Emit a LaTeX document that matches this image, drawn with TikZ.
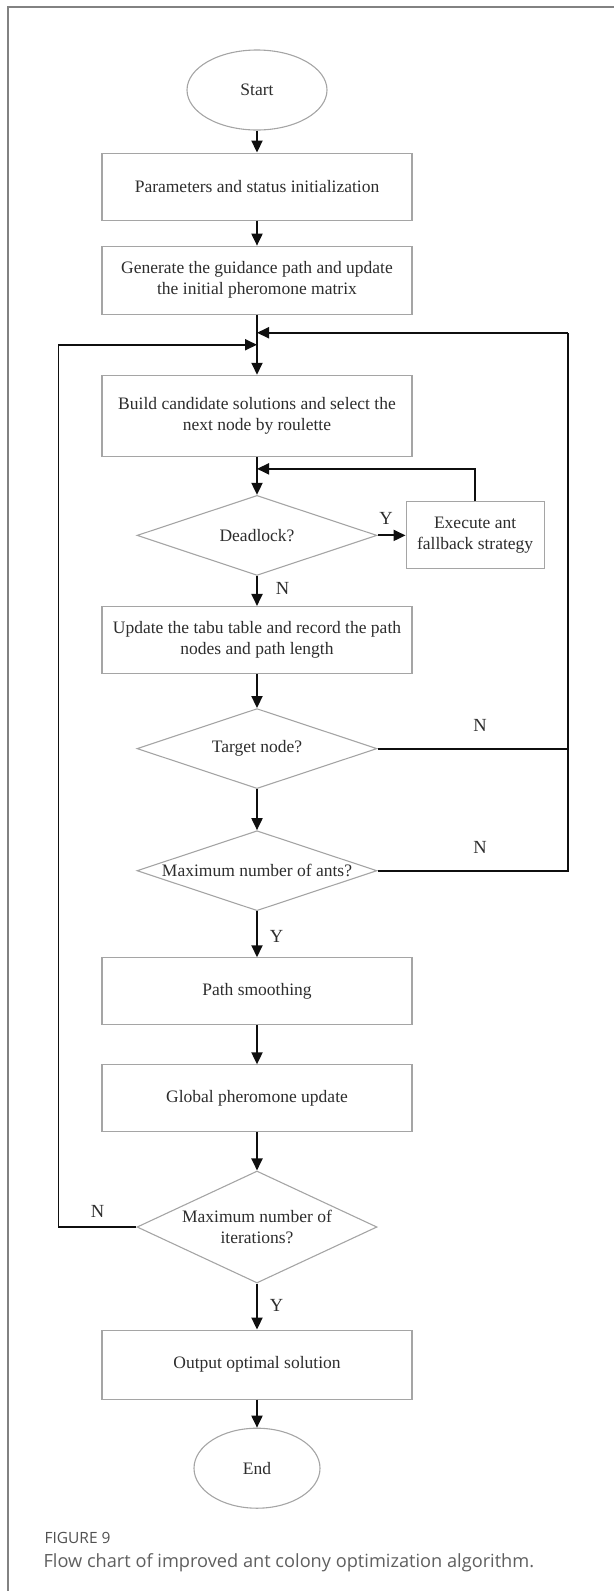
\documentclass[tikz,border=0pt]{standalone}
\usepackage{fontspec}
\setmainfont{Liberation Serif}
\newfontfamily\capfont{Open Sans}
\usepackage{tikz}
\usetikzlibrary{positioning,arrows.meta,calc,shapes.geometric}
\definecolor{shapec}{RGB}{165,165,165}
\definecolor{inkc}{RGB}{45,45,45}
\definecolor{flowc}{RGB}{15,15,15}
\definecolor{framec}{RGB}{130,130,130}
\definecolor{capc}{RGB}{95,95,95}
\newcommand{\boxfont}{\fontsize{17.5}{21}\selectfont}
\tikzset{
  terminal/.style = {ellipse, draw=shapec, line width=1.1pt, minimum width=140pt, minimum height=80pt,
                     inner sep=0pt, font=\boxfont, text=inkc},
  process/.style  = {rectangle, draw=shapec, line width=1.1pt, minimum width=310pt, minimum height=67pt,
                     align=center, inner sep=2pt, font=\boxfont, text=inkc},
  decision/.style = {diamond, aspect=3, draw=shapec, line width=1.1pt, minimum width=240pt, minimum height=80pt,
                     align=center, inner sep=0pt, font=\boxfont, text=inkc},
  flow/.style     = {-{Triangle[length=12pt,width=11pt]}, line width=1.9pt, draw=flowc},
  loopline/.style = {line width=1.9pt, draw=flowc},
  yn/.style       = {font=\fontsize{18.5}{20}\selectfont, text=inkc, inner sep=1pt},
}

\begin{document}
\begin{tikzpicture}
\useasboundingbox (0,0) rectangle (614pt,-1591pt);
\draw[framec, line width=1.3pt] (8pt,-1591pt) -- (8pt,-7pt) -- (614pt,-7pt);

\node[terminal] (start) at (257pt,-90pt) {Start};
\node[process, below=22pt of start] (params) {Parameters and status initialization};
\node[process, minimum height=68pt, below=25pt of params] (gen) {Generate the guidance path and update\\the initial pheromone matrix};
\node[process, minimum height=81pt, below=60pt of gen] (build) {Build candidate solutions and select the\\next node by roulette};
\node[decision, below=38pt of build] (deadlock) {Deadlock?};
\node[process, minimum width=138pt, right=28pt of deadlock] (exec) {Execute ant\\fallback strategy};
\node[process, below=30pt of deadlock] (update) {Update the tabu table and record the path\\nodes and path length};
\node[decision, below=34pt of update] (target) {Target node?};
\node[decision, below=41pt of target] (maxants) {Maximum number of ants?};
\node[process, below=46pt of maxants] (smooth) {Path smoothing};
\node[process, below=39pt of smooth] (global) {Global pheromone update};
\node[decision, aspect=2.15, minimum height=112pt, below=38pt of global] (maxiter) {Maximum number of\\iterations?};
\node[process, minimum height=69pt, below=46pt of maxiter] (output) {Output optimal solution};
\node[terminal, minimum width=126pt, below=28pt of output] (end) {End};

\coordinate (jr) at ($(gen.south)+(0,-18pt)$);
\coordinate (jl) at ($(gen.south)+(0,-30pt)$);
\coordinate (fb) at ($(build.south)+(0,-12pt)$);
\coordinate (rloop) at ($(target.east)+(190pt,0)$);
\coordinate (lloop) at ($(maxiter.west)+(-78pt,0)$);

\draw[flow] (start) -- (params);
\draw[flow] (params) -- (gen);
\draw[flow] (gen) -- (build);
\draw[flow] (build) -- (deadlock);
\draw[flow] (deadlock) -- node[yn, above=9pt, pos=0.3] {Y} (exec);
\draw[flow] (exec.north) -- (exec.north |- fb) -- (fb);
\draw[flow] (deadlock) -- node[yn, right=17pt, pos=0.4] {N} (update);
\draw[flow] (update) -- (target);
\draw[loopline] (target.east) -- node[yn, above=15pt, pos=0.54] {N} (target.east -| rloop);
\draw[flow] (target) -- (maxants);
\draw[loopline] (maxants.east) -- node[yn, above=15pt, pos=0.54] {N} (maxants.east -| rloop) -- (rloop |- jr);
\draw[flow] (rloop |- jr) -- (jr);
\draw[flow] (maxants) -- node[yn, right=11pt, pos=0.55] {Y} (smooth);
\draw[flow] (smooth) -- (global);
\draw[flow] (global) -- (maxiter);
\draw[flow] (maxiter.west) -- node[yn, above=8pt, pos=0.5] {N} (maxiter.west -| lloop) -- (lloop |- jl) -- (jl);
\draw[flow] (maxiter) -- node[yn, right=11pt, pos=0.48] {Y} (output);
\draw[flow] (output) -- (end);

\node[anchor=west, font=\capfont\fontsize{15.5}{18}\selectfont, text=capc!85!black] (fig) at (41pt,-1538pt) {FIGURE 9};
\node[anchor=west, font=\capfont\fontsize{18.2}{21}\selectfont, text=capc] (cap) at (40pt,-1563pt) {Flow chart of improved ant colony optimization algorithm.};

\end{tikzpicture}
\end{document}
